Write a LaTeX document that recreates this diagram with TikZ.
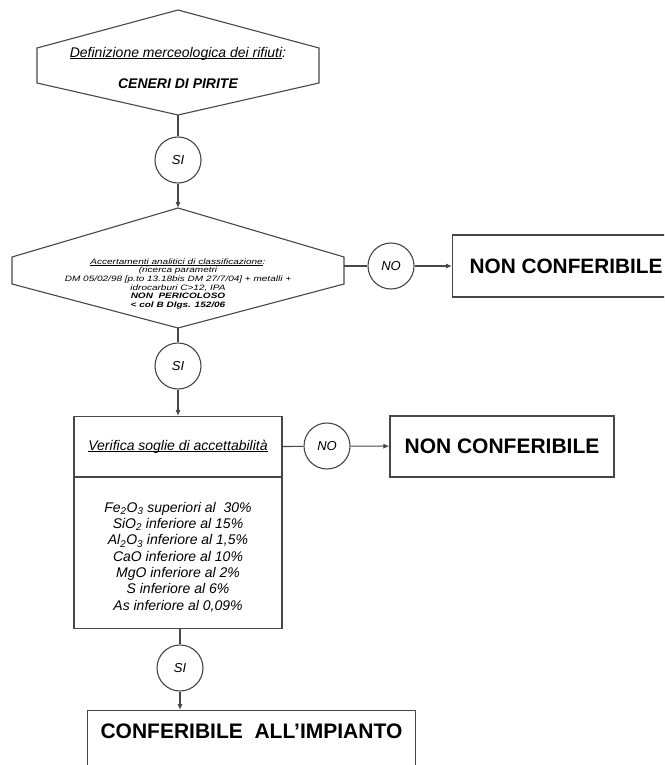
\documentclass[tikz,border=0pt]{standalone}
\usepackage{fontspec}
\usepackage{graphicx}
\setmainfont{Liberation Sans}
\usetikzlibrary{arrows.meta}
% underline drawn just below the baseline, independent of descenders
\newcommand\undl[1]{\setbox0\hbox{#1}\rlap{\rule[-1.6pt]{\wd0}{0.7pt}}\box0}
\begin{document}
\begin{tikzpicture}[x=1pt,y=-1pt,
  line/.style={draw=black!72,line width=1.1pt},
  arr/.style={line,-{Latex[length=6pt,width=5pt]}},
  ring/.style={circle,line,minimum size=46pt,inner sep=0pt,
    font=\fontsize{13}{15}\selectfont\itshape},
  outbox/.style={rectangle,line,inner sep=0pt},
  body/.style={font=\fontsize{14}{16}\selectfont\itshape,align=center}]
\useasboundingbox (0,0) rectangle (664,765);
\clip (0,0) rectangle (664,765);
\fill[white] (0,0) rectangle (664,765);

% first decision: waste definition
\draw[line] (178,10) -- (319,48) -- (319,83) -- (178,115) -- (37,83) -- (37,48) -- cycle;
\coordinate (h1s) at (178,115);
\node[body] (h1t) at (178,67.5)
  {\undl{Definizione merceologica dei rifiuti}:\\[15pt]\textbf{CENERI DI PIRITE}};

% second decision: analytical classification (text set compact, squeezed vertically)
\draw[line] (178,208) -- (344,257) -- (344,284) -- (178,328) -- (12,284) -- (12,257) -- cycle;
\coordinate (h2n) at (178,208);
\coordinate (h2e) at (344,266);
\coordinate (h2s) at (178,328);
\node[inner sep=0pt] (h2t) at (178,284)
  {\scalebox{1}[0.78]{\fontsize{10}{11}\selectfont\itshape
   \begin{tabular}{@{}c@{}}
   \undl{Accertamenti analitici di classificazione}:\\
   (ricerca parametri\\
   DM 05/02/98 [p.to 13.18bis DM 27/7/04] + metalli +\\
   idrocarburi C>12, IPA\\
   \textbf{NON\ \ PERICOLOSO}\\
   \textbf{< col B Dlgs. 152/06}
   \end{tabular}}};

% yes / no markers
\node[ring] (si1) at (178,160) {SI};
\node[ring] (no1) at (391,266) {NO};
\node[ring] (si2) at (178,366) {SI};
\node[ring] (no2) at (327,446) {NO};
\node[ring] (si3) at (180,668) {SI};

% rejection boxes
\node[outbox,anchor=west,minimum height=62pt,inner xsep=17pt,
  font=\fontsize{20.8}{24}\selectfont\bfseries] (nc1) at (452,266) {NON CONFERIBILE};
\node[outbox,minimum width=224pt,minimum height=61pt,
  font=\fontsize{21}{24}\selectfont\bfseries] (nc2) at (502,446.5) {NON CONFERIBILE};

% acceptance thresholds
\node[outbox,anchor=north,minimum width=208pt,minimum height=60pt,
  font=\fontsize{14}{16}\selectfont\itshape] (ver) at (178,416)
  {\undl{Verifica soglie di accettabilità}};
\node[outbox,anchor=north,minimum width=208pt,minimum height=151pt] (lim) at (ver.south) {};
\node[font=\fontsize{14}{16.3}\selectfont\itshape,align=center] (limt) at (178,557)
  {Fe\textsubscript{2}O\textsubscript{3} superiori al\ \ 30\%\\
   SiO\textsubscript{2} inferiore al 15\%\\
   Al\textsubscript{2}O\textsubscript{3} inferiore al 1,5\%\\
   CaO inferiore al 10\%\\
   MgO inferiore al 2\%\\
   S inferiore al 6\%\\
   As inferiore al 0,09\%};

% final outcome
\node[outbox,anchor=north west,inner xsep=13pt,inner ysep=13pt,text height=15pt,
  text depth=50pt,font=\fontsize{21}{24}\selectfont\bfseries] (fin) at (87,710)
  {CONFERIBILE\ \ ALL’IMPIANTO};

% connectors
\draw[line] (h1s) -- (si1);
\draw[arr] (si1) -- (h2n);
\draw[line] (h2e) -- (no1);
\draw[arr] (no1) -- (nc1);
\draw[line] (h2s) -- (si2);
\draw[arr] (si2) -- (ver);
\draw[line] (ver.east) -- (no2);
\draw[arr] (no2) -- (nc2);
\draw[line] (si3.north |- lim.south) -- (si3.north);
\draw[arr] (si3.south) -- (si3.south |- fin.north);
\end{tikzpicture}
\end{document}
